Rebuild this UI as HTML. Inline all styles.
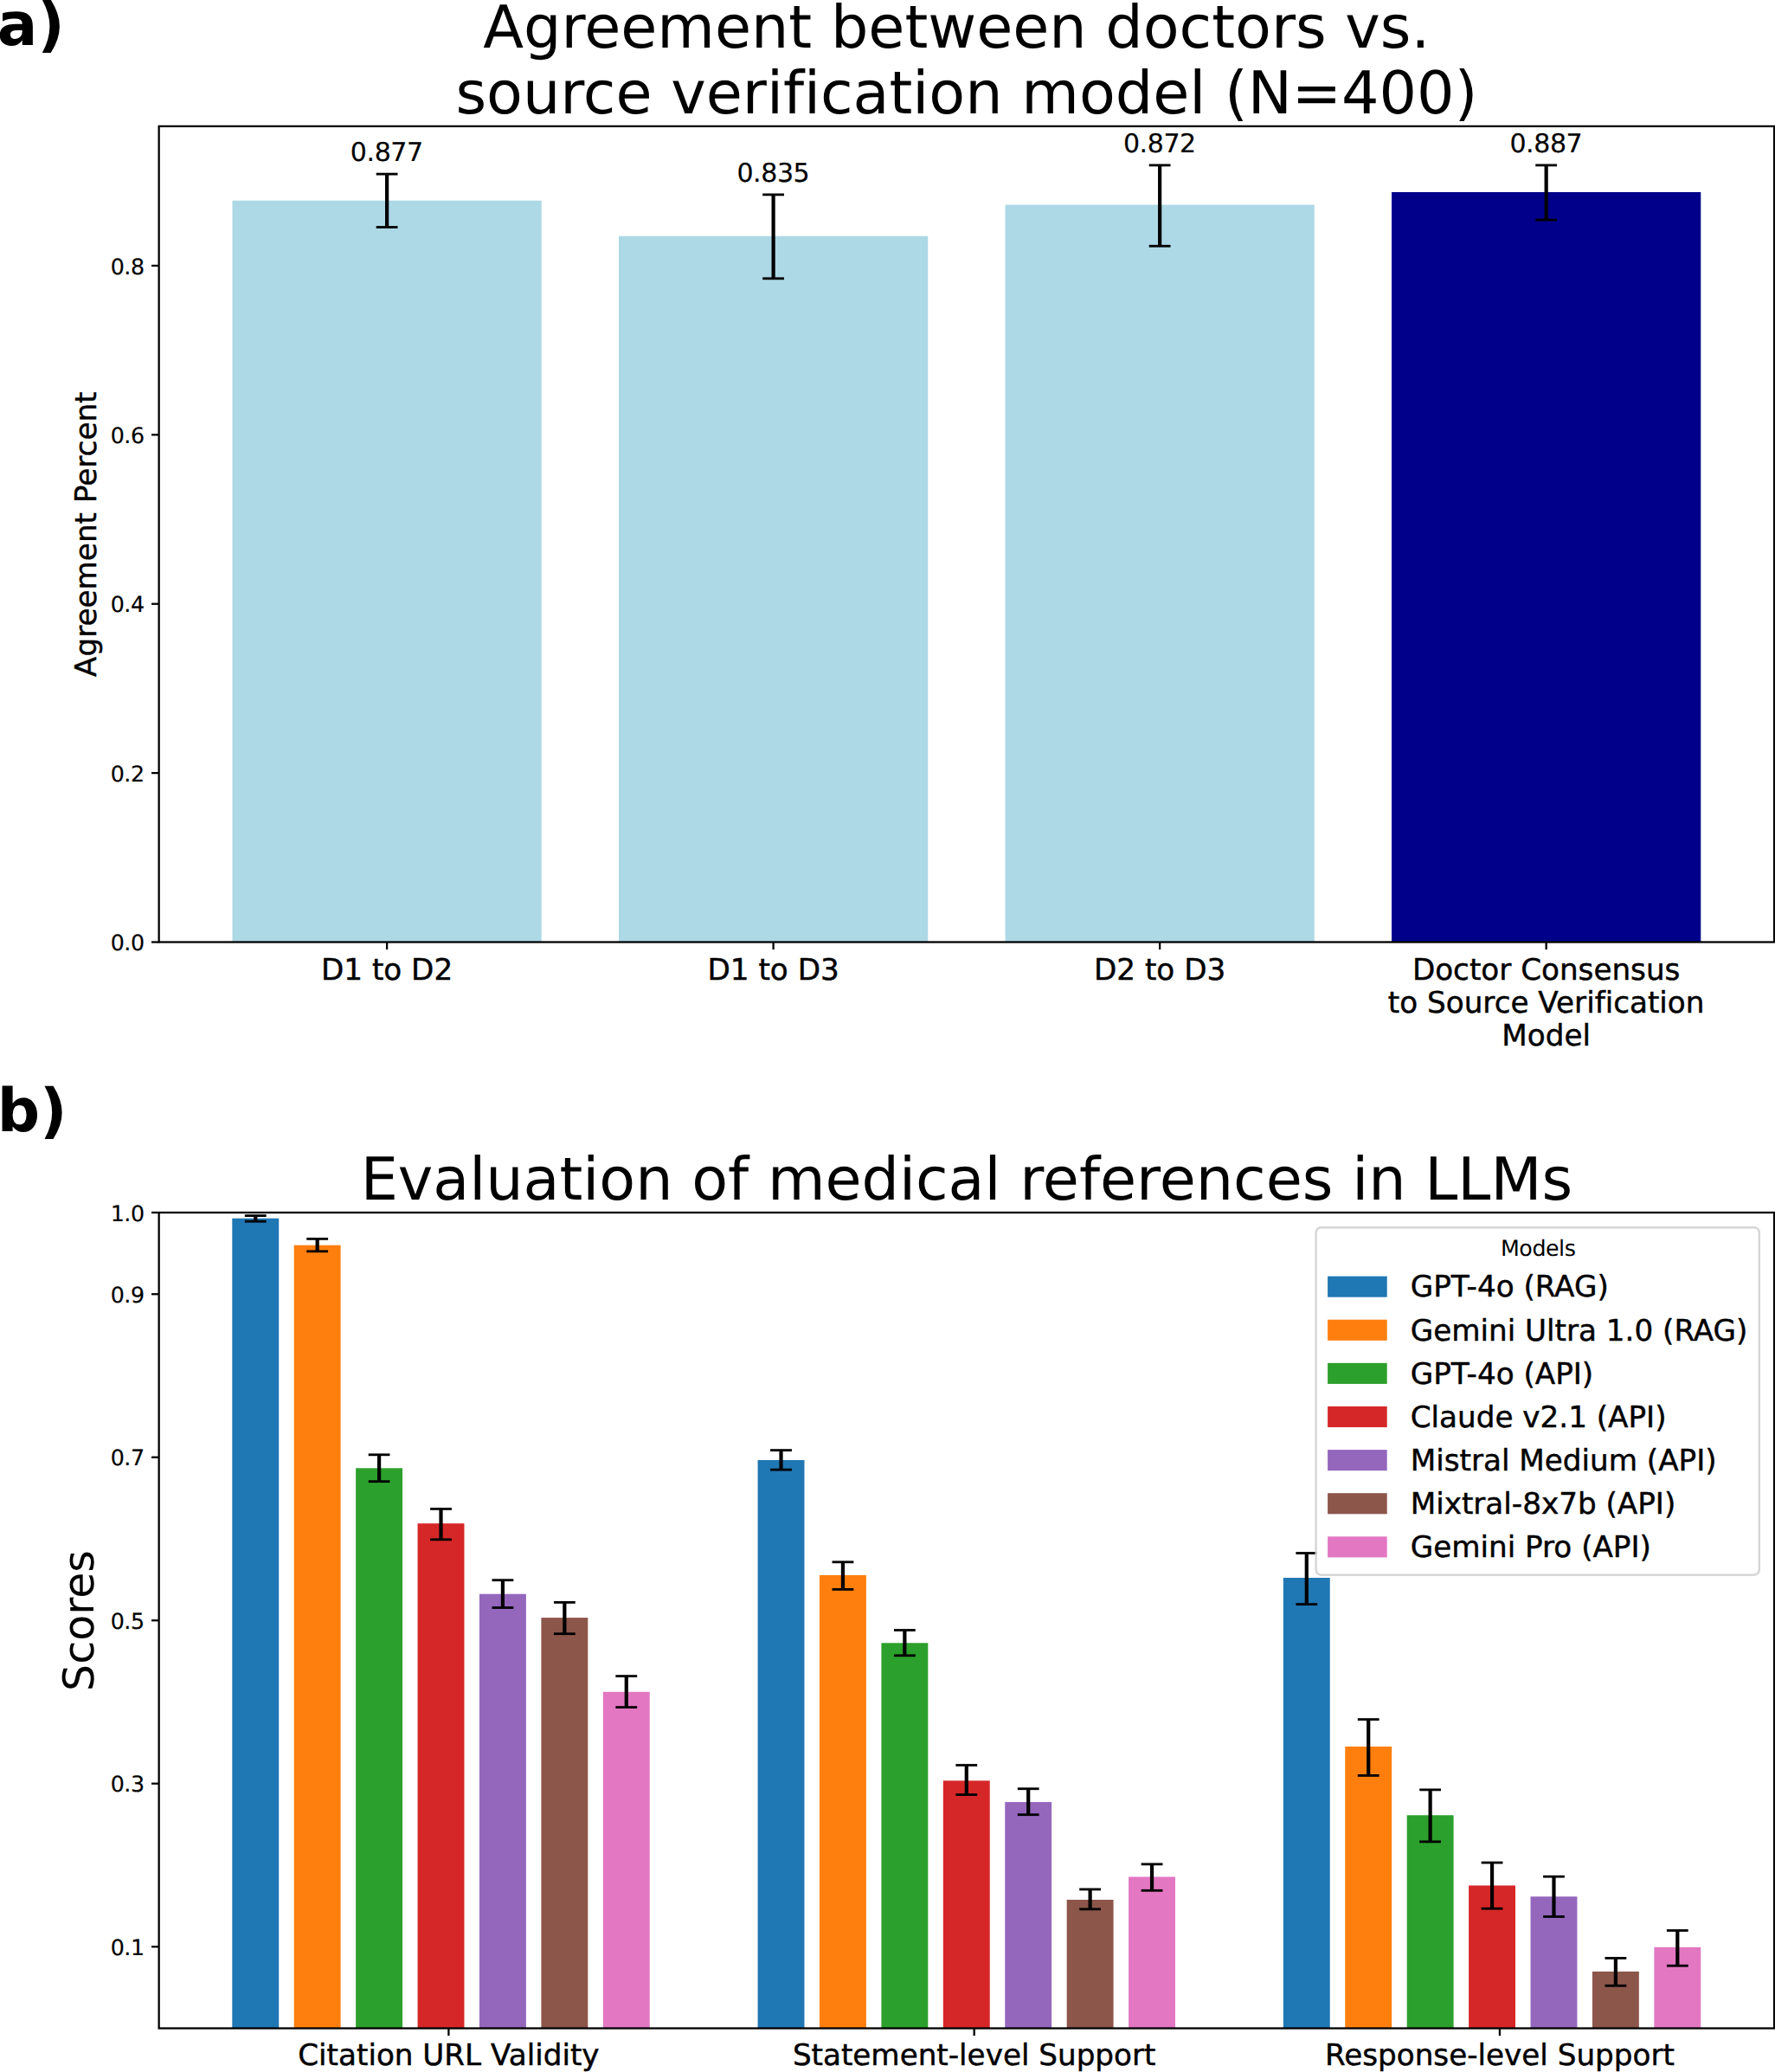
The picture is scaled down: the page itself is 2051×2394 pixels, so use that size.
<!DOCTYPE html>
<html lang="en"><head><meta charset="utf-8"><title>Agreement between doctors vs. source verification model</title>
<style>html,body{margin:0;padding:0;background:#fff}body{width:2051px;height:2394px;overflow:hidden}svg text{fill:#000;white-space:pre;font-family:"DejaVu Sans", "Liberation Sans", sans-serif;text-rendering:geometricPrecision;font-variant-ligatures:none}svg .k{stroke:#000;stroke-width:0.45px;stroke-linejoin:round}svg .j{stroke:#000;stroke-width:0.18px}</style>
</head><body>
<svg width="2051" height="2394" viewBox="0 0 2051 2394" style="display:block">
<rect x="0" y="0" width="2051" height="2394" fill="#fff"/>
<text x="-3.3" y="52.3" font-size="69" font-weight="700">a)</text>
<text x="-3.3" y="1307.1" font-size="69" font-weight="700">b)</text>
<text x="1105.28" y="54.8" font-size="68.4" text-anchor="middle">Agreement between doctors vs.</text>
<text x="1116.88" y="131.0" font-size="68.4" text-anchor="middle">source verification model (N=400)</text>
<g>
<rect x="268.49" y="231.76" width="357.22" height="856.74" fill="#add8e6"/>
<rect x="715.01" y="272.79" width="357.22" height="815.71" fill="#add8e6"/>
<rect x="1161.53" y="236.64" width="357.22" height="851.86" fill="#add8e6"/>
<rect x="1608.05" y="221.99" width="357.22" height="866.51" fill="#00008b"/>
</g>
<g stroke="#000" fill="none">
<line x1="447.10" y1="201.1" x2="447.10" y2="262.5" stroke-width="4.2"/>
<line x1="434.70" y1="201.1" x2="459.50" y2="201.1" stroke-width="2.8"/>
<line x1="434.70" y1="262.5" x2="459.50" y2="262.5" stroke-width="2.8"/>
<line x1="893.62" y1="224.9" x2="893.62" y2="321.8" stroke-width="4.2"/>
<line x1="881.22" y1="224.9" x2="906.02" y2="224.9" stroke-width="2.8"/>
<line x1="881.22" y1="321.8" x2="906.02" y2="321.8" stroke-width="2.8"/>
<line x1="1340.13" y1="190.9" x2="1340.13" y2="284.3" stroke-width="4.2"/>
<line x1="1327.73" y1="190.9" x2="1352.53" y2="190.9" stroke-width="2.8"/>
<line x1="1327.73" y1="284.3" x2="1352.53" y2="284.3" stroke-width="2.8"/>
<line x1="1786.65" y1="190.9" x2="1786.65" y2="254.1" stroke-width="4.2"/>
<line x1="1774.25" y1="190.9" x2="1799.05" y2="190.9" stroke-width="2.8"/>
<line x1="1774.25" y1="254.1" x2="1799.05" y2="254.1" stroke-width="2.8"/>
</g>
<g font-size="30" text-anchor="middle" letter-spacing="-0.4" class="j">
<text transform="translate(446.80 186.10)">0.877</text>
<text transform="translate(893.32 209.90)">0.835</text>
<text transform="translate(1339.83 175.90)">0.872</text>
<text transform="translate(1786.35 175.90)">0.887</text>
</g>
<g stroke="#000" stroke-width="2.28">
<line x1="175.05" y1="1088.50" x2="183.65" y2="1088.50"/>
<line x1="175.05" y1="893.12" x2="183.65" y2="893.12"/>
<line x1="175.05" y1="697.74" x2="183.65" y2="697.74"/>
<line x1="175.05" y1="502.36" x2="183.65" y2="502.36"/>
<line x1="175.05" y1="306.98" x2="183.65" y2="306.98"/>
<line x1="447.10" y1="1088.5" x2="447.10" y2="1097.10"/>
<line x1="893.62" y1="1088.5" x2="893.62" y2="1097.10"/>
<line x1="1340.13" y1="1088.5" x2="1340.13" y2="1097.10"/>
<line x1="1786.65" y1="1088.5" x2="1786.65" y2="1097.10"/>
</g>
<rect x="183.65" y="145.9" width="1866.45" height="942.60" fill="none" stroke="#000" stroke-width="2.28"/>
<g font-size="25.3" text-anchor="end" letter-spacing="-0.45" class="j">
<text transform="translate(166.6 1098.20)">0.0</text>
<text transform="translate(166.6 902.82)">0.2</text>
<text transform="translate(166.6 707.44)">0.4</text>
<text transform="translate(166.6 512.06)">0.6</text>
<text transform="translate(166.6 316.68)">0.8</text>
</g>
<g font-size="34.2" text-anchor="middle" class="k">
<text x="447.10" y="1131.5">D1 to D2</text>
<text x="893.62" y="1131.5">D1 to D3</text>
<text x="1340.13" y="1131.5">D2 to D3</text>
<text x="1786.65" y="1131.50">Doctor Consensus</text>
<text x="1786.65" y="1169.90">to Source Verification</text>
<text x="1786.65" y="1208.30">Model</text>
</g>
<text transform="translate(111.2 617.2) rotate(-90)" font-size="34.2" text-anchor="middle" class="k">Agreement Percent</text>
<text x="1116.88" y="1386.2" font-size="68.4" text-anchor="middle">Evaluation of medical references in LLMs</text>
<g>
<rect x="268.30" y="1407.70" width="53.9" height="935.80" fill="#1f77b4"/>
<rect x="339.72" y="1438.70" width="53.9" height="904.80" fill="#ff7f0e"/>
<rect x="411.14" y="1696.30" width="53.9" height="647.20" fill="#2ca02c"/>
<rect x="482.56" y="1760.20" width="53.9" height="583.30" fill="#d62728"/>
<rect x="553.98" y="1841.70" width="53.9" height="501.80" fill="#9467bd"/>
<rect x="625.40" y="1869.10" width="53.9" height="474.40" fill="#8c564b"/>
<rect x="696.82" y="1954.80" width="53.9" height="388.70" fill="#e377c2"/>
<rect x="875.57" y="1687.00" width="53.9" height="656.50" fill="#1f77b4"/>
<rect x="946.99" y="1819.90" width="53.9" height="523.60" fill="#ff7f0e"/>
<rect x="1018.41" y="1898.30" width="53.9" height="445.20" fill="#2ca02c"/>
<rect x="1089.83" y="2057.40" width="53.9" height="286.10" fill="#d62728"/>
<rect x="1161.25" y="2082.10" width="53.9" height="261.40" fill="#9467bd"/>
<rect x="1232.67" y="2195.00" width="53.9" height="148.50" fill="#8c564b"/>
<rect x="1304.09" y="2168.50" width="53.9" height="175.00" fill="#e377c2"/>
<rect x="1482.84" y="1823.00" width="53.9" height="520.50" fill="#1f77b4"/>
<rect x="1554.26" y="2018.00" width="53.9" height="325.50" fill="#ff7f0e"/>
<rect x="1625.68" y="2097.30" width="53.9" height="246.20" fill="#2ca02c"/>
<rect x="1697.10" y="2178.50" width="53.9" height="165.00" fill="#d62728"/>
<rect x="1768.52" y="2191.30" width="53.9" height="152.20" fill="#9467bd"/>
<rect x="1839.94" y="2277.90" width="53.9" height="65.60" fill="#8c564b"/>
<rect x="1911.36" y="2249.80" width="53.9" height="93.70" fill="#e377c2"/>
</g>
<g stroke="#000" fill="none">
<line x1="295.25" y1="1404.6" x2="295.25" y2="1411.2" stroke-width="4.2"/>
<line x1="282.85" y1="1404.6" x2="307.65" y2="1404.6" stroke-width="2.8"/>
<line x1="282.85" y1="1411.2" x2="307.65" y2="1411.2" stroke-width="2.8"/>
<line x1="366.67" y1="1431.4" x2="366.67" y2="1445.8" stroke-width="4.2"/>
<line x1="354.27" y1="1431.4" x2="379.07" y2="1431.4" stroke-width="2.8"/>
<line x1="354.27" y1="1445.8" x2="379.07" y2="1445.8" stroke-width="2.8"/>
<line x1="438.09" y1="1680.8" x2="438.09" y2="1711.7" stroke-width="4.2"/>
<line x1="425.69" y1="1680.8" x2="450.49" y2="1680.8" stroke-width="2.8"/>
<line x1="425.69" y1="1711.7" x2="450.49" y2="1711.7" stroke-width="2.8"/>
<line x1="509.51" y1="1743.4" x2="509.51" y2="1778.8" stroke-width="4.2"/>
<line x1="497.11" y1="1743.4" x2="521.91" y2="1743.4" stroke-width="2.8"/>
<line x1="497.11" y1="1778.8" x2="521.91" y2="1778.8" stroke-width="2.8"/>
<line x1="580.93" y1="1825.7" x2="580.93" y2="1857.5" stroke-width="4.2"/>
<line x1="568.53" y1="1825.7" x2="593.33" y2="1825.7" stroke-width="2.8"/>
<line x1="568.53" y1="1857.5" x2="593.33" y2="1857.5" stroke-width="2.8"/>
<line x1="652.35" y1="1851.4" x2="652.35" y2="1887.7" stroke-width="4.2"/>
<line x1="639.95" y1="1851.4" x2="664.75" y2="1851.4" stroke-width="2.8"/>
<line x1="639.95" y1="1887.7" x2="664.75" y2="1887.7" stroke-width="2.8"/>
<line x1="723.77" y1="1936.6" x2="723.77" y2="1972.6" stroke-width="4.2"/>
<line x1="711.37" y1="1936.6" x2="736.17" y2="1936.6" stroke-width="2.8"/>
<line x1="711.37" y1="1972.6" x2="736.17" y2="1972.6" stroke-width="2.8"/>
<line x1="902.52" y1="1675.6" x2="902.52" y2="1698.1" stroke-width="4.2"/>
<line x1="890.12" y1="1675.6" x2="914.92" y2="1675.6" stroke-width="2.8"/>
<line x1="890.12" y1="1698.1" x2="914.92" y2="1698.1" stroke-width="2.8"/>
<line x1="973.94" y1="1804.8" x2="973.94" y2="1836.4" stroke-width="4.2"/>
<line x1="961.54" y1="1804.8" x2="986.34" y2="1804.8" stroke-width="2.8"/>
<line x1="961.54" y1="1836.4" x2="986.34" y2="1836.4" stroke-width="2.8"/>
<line x1="1045.36" y1="1883.5" x2="1045.36" y2="1912.8" stroke-width="4.2"/>
<line x1="1032.96" y1="1883.5" x2="1057.76" y2="1883.5" stroke-width="2.8"/>
<line x1="1032.96" y1="1912.8" x2="1057.76" y2="1912.8" stroke-width="2.8"/>
<line x1="1116.78" y1="2039.5" x2="1116.78" y2="2073.6" stroke-width="4.2"/>
<line x1="1104.38" y1="2039.5" x2="1129.18" y2="2039.5" stroke-width="2.8"/>
<line x1="1104.38" y1="2073.6" x2="1129.18" y2="2073.6" stroke-width="2.8"/>
<line x1="1188.20" y1="2066.75" x2="1188.20" y2="2096.7" stroke-width="4.2"/>
<line x1="1175.80" y1="2066.75" x2="1200.60" y2="2066.75" stroke-width="2.8"/>
<line x1="1175.80" y1="2096.7" x2="1200.60" y2="2096.7" stroke-width="2.8"/>
<line x1="1259.62" y1="2182.95" x2="1259.62" y2="2205.85" stroke-width="4.2"/>
<line x1="1247.22" y1="2182.95" x2="1272.02" y2="2182.95" stroke-width="2.8"/>
<line x1="1247.22" y1="2205.85" x2="1272.02" y2="2205.85" stroke-width="2.8"/>
<line x1="1331.04" y1="2153.9" x2="1331.04" y2="2184.3" stroke-width="4.2"/>
<line x1="1318.64" y1="2153.9" x2="1343.44" y2="2153.9" stroke-width="2.8"/>
<line x1="1318.64" y1="2184.3" x2="1343.44" y2="2184.3" stroke-width="2.8"/>
<line x1="1509.79" y1="1794.5" x2="1509.79" y2="1853.6" stroke-width="4.2"/>
<line x1="1497.39" y1="1794.5" x2="1522.19" y2="1794.5" stroke-width="2.8"/>
<line x1="1497.39" y1="1853.6" x2="1522.19" y2="1853.6" stroke-width="2.8"/>
<line x1="1581.21" y1="1986.6" x2="1581.21" y2="2051.45" stroke-width="4.2"/>
<line x1="1568.81" y1="1986.6" x2="1593.61" y2="1986.6" stroke-width="2.8"/>
<line x1="1568.81" y1="2051.45" x2="1593.61" y2="2051.45" stroke-width="2.8"/>
<line x1="1652.63" y1="2067.9" x2="1652.63" y2="2127.9" stroke-width="4.2"/>
<line x1="1640.23" y1="2067.9" x2="1665.03" y2="2067.9" stroke-width="2.8"/>
<line x1="1640.23" y1="2127.9" x2="1665.03" y2="2127.9" stroke-width="2.8"/>
<line x1="1724.05" y1="2152.1" x2="1724.05" y2="2205.2" stroke-width="4.2"/>
<line x1="1711.65" y1="2152.1" x2="1736.45" y2="2152.1" stroke-width="2.8"/>
<line x1="1711.65" y1="2205.2" x2="1736.45" y2="2205.2" stroke-width="2.8"/>
<line x1="1795.47" y1="2168.2" x2="1795.47" y2="2214.5" stroke-width="4.2"/>
<line x1="1783.07" y1="2168.2" x2="1807.87" y2="2168.2" stroke-width="2.8"/>
<line x1="1783.07" y1="2214.5" x2="1807.87" y2="2214.5" stroke-width="2.8"/>
<line x1="1866.89" y1="2262.45" x2="1866.89" y2="2294.3" stroke-width="4.2"/>
<line x1="1854.49" y1="2262.45" x2="1879.29" y2="2262.45" stroke-width="2.8"/>
<line x1="1854.49" y1="2294.3" x2="1879.29" y2="2294.3" stroke-width="2.8"/>
<line x1="1938.31" y1="2230.5" x2="1938.31" y2="2271.25" stroke-width="4.2"/>
<line x1="1925.91" y1="2230.5" x2="1950.71" y2="2230.5" stroke-width="2.8"/>
<line x1="1925.91" y1="2271.25" x2="1950.71" y2="2271.25" stroke-width="2.8"/>
</g>
<g stroke="#000" stroke-width="2.28">
<line x1="175.05" y1="2249.25" x2="183.65" y2="2249.25"/>
<line x1="175.05" y1="2060.75" x2="183.65" y2="2060.75"/>
<line x1="175.05" y1="1872.25" x2="183.65" y2="1872.25"/>
<line x1="175.05" y1="1683.75" x2="183.65" y2="1683.75"/>
<line x1="175.05" y1="1495.25" x2="183.65" y2="1495.25"/>
<line x1="175.05" y1="1401.00" x2="183.65" y2="1401.00"/>
<line x1="518.40" y1="2343.5" x2="518.40" y2="2352.10"/>
<line x1="1125.67" y1="2343.5" x2="1125.67" y2="2352.10"/>
<line x1="1732.94" y1="2343.5" x2="1732.94" y2="2352.10"/>
</g>
<rect x="183.65" y="1401.0" width="1866.45" height="942.50" fill="none" stroke="#000" stroke-width="2.28"/>
<g font-size="25.3" text-anchor="end" letter-spacing="-0.45" class="j">
<text transform="translate(166.6 2258.95)">0.1</text>
<text transform="translate(166.6 2070.45)">0.3</text>
<text transform="translate(166.6 1881.95)">0.5</text>
<text transform="translate(166.6 1693.45)">0.7</text>
<text transform="translate(166.6 1504.95)">0.9</text>
<text transform="translate(166.6 1410.70)">1.0</text>
</g>
<g font-size="34.2" text-anchor="middle" class="k">
<text x="518.40" y="2386.3">Citation URL Validity</text>
<text x="1125.67" y="2386.3">Statement-level Support</text>
<text x="1732.94" y="2386.3">Response-level Support</text>
</g>
<text transform="translate(107.9 1872.5) rotate(-90)" font-size="49" text-anchor="middle">Scores</text>
<rect x="1520.6" y="1418.15" width="512.20" height="401.55" rx="6" ry="6" fill="#fff" fill-opacity="0.8" stroke="#ccc" stroke-opacity="0.8" stroke-width="2.45"/>
<text transform="translate(1777.2 1450.7)" font-size="25.3" letter-spacing="-0.45" text-anchor="middle">Models</text>
<rect x="1534.1" y="1474.60" width="68.6" height="24.1" fill="#1f77b4"/>
<text x="1629.7" y="1498.40" font-size="34.2" class="k">GPT-4o (RAG)</text>
<rect x="1534.1" y="1524.72" width="68.6" height="24.1" fill="#ff7f0e"/>
<text x="1629.7" y="1548.52" font-size="34.2" class="k">Gemini Ultra 1.0 (RAG)</text>
<rect x="1534.1" y="1574.84" width="68.6" height="24.1" fill="#2ca02c"/>
<text x="1629.7" y="1598.64" font-size="34.2" class="k">GPT-4o (API)</text>
<rect x="1534.1" y="1624.96" width="68.6" height="24.1" fill="#d62728"/>
<text x="1629.7" y="1648.76" font-size="34.2" class="k">Claude v2.1 (API)</text>
<rect x="1534.1" y="1675.08" width="68.6" height="24.1" fill="#9467bd"/>
<text x="1629.7" y="1698.88" font-size="34.2" class="k">Mistral Medium (API)</text>
<rect x="1534.1" y="1725.20" width="68.6" height="24.1" fill="#8c564b"/>
<text x="1629.7" y="1749.00" font-size="34.2" class="k">Mixtral-8x7b (API)</text>
<rect x="1534.1" y="1775.32" width="68.6" height="24.1" fill="#e377c2"/>
<text x="1629.7" y="1799.12" font-size="34.2" class="k">Gemini Pro (API)</text>
</svg>
</body></html>
